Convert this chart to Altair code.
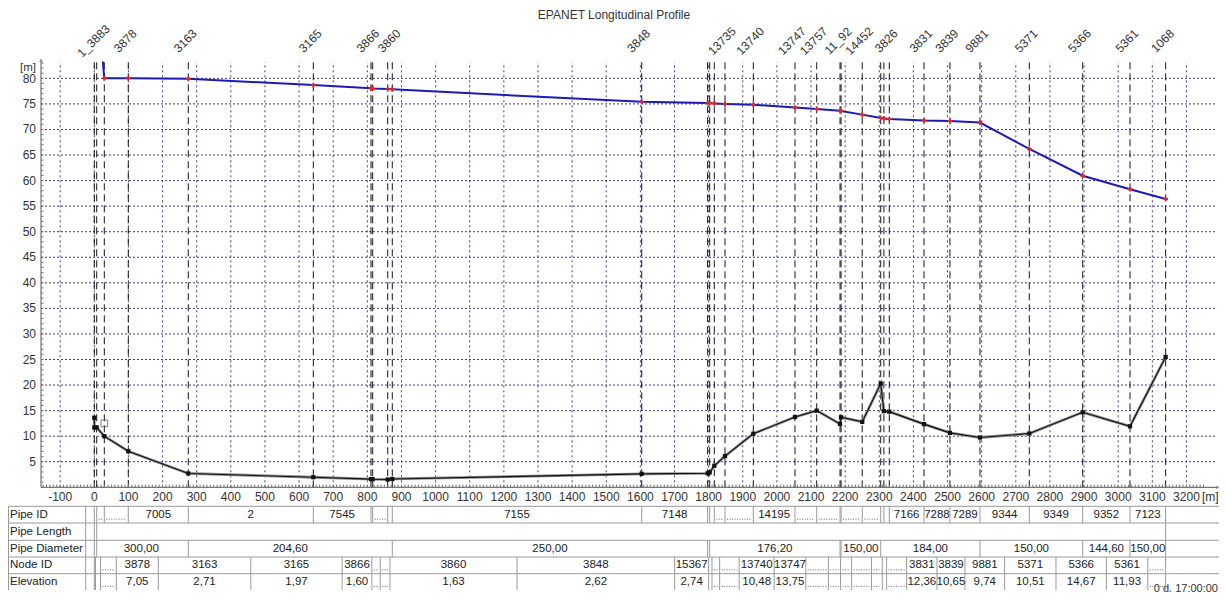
import altair as alt
import pandas as pd

# ---------------- data ----------------
node_dist = [0, 7, 29.3, 99.6, 275.4, 641.7, 810.7, 815.7, 859.7, 873.1,
             1603.9, 1797, 1803, 1816.6, 1847.9, 1930.9, 2053, 2116.6, 2185, 2188,
             2250, 2304.2, 2313.5, 2329.3, 2431, 2507, 2595, 2739.5, 2896, 3034.6, 3139]
node_name = ["", "1_3883", "", "3878", "3163", "3165", "3866", "", "", "3860",
             "3848", "", "", "", "13735", "13740", "13747", "13757", "", "11_92",
             "14452", "", "", "3826", "3831", "3839", "9881", "5371", "5366", "5361", "1068"]
head = [None, None, 80.0, 80.0, 79.9, 78.7, 78.05, 78.0, 77.9, 77.85,
        75.4, 75.2, 75.15, 75.1, 75.0, 74.85, 74.3, 74.0, 73.65, 73.6,
        72.9, 72.25, 72.15, 72.05, 71.75, 71.65, 71.35, 66.2, 60.95, 58.3, 56.4]
head_entry_dist, head_entry = 25, 83.3

ground_dist = [0, 0, 7, 29.3, 99.6, 275.4, 641.7, 810.7, 815.7, 859.7, 873.1,
               1603.9, 1797, 1803, 1816.6, 1847.9, 1930.9, 2053, 2116.6, 2185, 2188,
               2250, 2304.2, 2313.5, 2329.3, 2431, 2507, 2595, 2739.5, 2896, 3034.6, 3139]
ground_elev = [13.6, 11.7, 11.7, 10.0, 7.05, 2.71, 1.97, 1.60, 1.58, 1.52, 1.63,
               2.62, 2.74, 2.9, 4.2, 6.1, 10.48, 13.75, 15.0, 12.4, 13.7,
               12.8, 20.3, 14.9, 14.8, 12.36, 10.65, 9.74, 10.51, 14.67, 11.93, 25.5]
valve_dist, valve_elev = 29.3, 12.5

pipe_id = ["", "", "", "7005", "2", "7545", "", "", "", "7155", "7148", "", "", "", "",
           "14195", "", "", "", "", "", "", "", "7166", "7288", "7289", "9344", "9349",
           "9352", "7123"]
node_id_cell = ["", "", "", "3878", "3163", "3165", "3866", "", "", "3860", "3848", "15367",
                "", "", "", "13740", "13747", "", "", "", "", "", "", "", "3831", "3839",
                "9881", "5371", "5366", "5361", ""]
elev_cell = ["", "", "", "7,05", "2,71", "1,97", "1,60", "", "", "1,63", "2,62", "2,74",
             "", "", "", "10,48", "13,75", "", "", "", "", "", "", "", "12,36", "10,65",
             "9,74", "10,51", "14,67", "11,93", ""]
diam_from = [0, 275.4, 873.1, 1803, 2188, 2304.2, 2595, 2896, 3034.6]
diam_to = [275.4, 873.1, 1797, 2185, 2304.2, 2595, 2896, 3034.6, 3139]
diam_label = ["300,00", "204,60", "250,00", "176,20", "150,00", "184,00", "150,00",
              "144,60", "150,00"]
row_names = ["Pipe ID", "Pipe Length", "Pipe Diameter", "Node ID", "Elevation"]
x_ticks = list(range(-100, 3201, 100))
y_ticks = list(range(5, 81, 5))

# ---------------- layout helpers (page pixels -> data units) ----------------
PX0, KX = 94.3, 0.3413
PY0, KY = 487.3, 5.112


def xm(p):
    return (p - PX0) / KX


def yv(p):
    return (PY0 - p) / KY


ROW_TOP = [506.3, 523.0, 540.3, 557.0, 573.7]
ROW_BOT = 590.0
row_mid = [(ROW_TOP[i] + (ROW_TOP[i + 1] if i < 4 else ROW_BOT)) / 2 for i in range(5)]

XS = alt.Scale(domain=[xm(8), xm(1219)], nice=False, zero=False)
YS = alt.Scale(domain=[yv(594), yv(8)], nice=False, zero=False)
GRID = "#3e3e80"
TBL = "#9a9a9a"
FONT = "Liberation Sans"


def enc_xy(df):
    e = dict(x=alt.X("x:Q", scale=XS, axis=None), y=alt.Y("y:Q", scale=YS, axis=None))
    if "x2" in df.columns:
        e["x2"] = alt.X2("x2:Q")
    if "y2" in df.columns:
        e["y2"] = alt.Y2("y2:Q")
    return e


def rules(rows, **mk):
    df = pd.DataFrame(rows)
    return alt.Chart(df).mark_rule(**mk).encode(**enc_xy(df))


def texts(rows, **mk):
    df = pd.DataFrame(rows)
    style = dict(font=FONT, fontSize=11.5, color="#222", baseline="middle")
    style.update(mk)
    return alt.Chart(df).mark_text(**style).encode(text="t:N", **enc_xy(df))


layers = []

# grid
layers.append(rules([{"x": xm(41), "x2": xm(1215), "y": v} for v in y_ticks],
                    color=GRID, strokeDash=[2, 2], strokeWidth=1))
layers.append(rules([{"x": v, "y": 0, "y2": yv(62)} for v in x_ticks],
                    color=GRID, strokeDash=[2, 3], strokeWidth=1))
# node dashed lines
layers.append(rules([{"x": d, "y": 0, "y2": yv(62)} for d in node_dist],
                    color="#151515", strokeDash=[7, 4], strokeWidth=1))

# axes
layers.append(rules([{"x": xm(41), "y": 0, "y2": yv(61)},
                     {"x": xm(41), "x2": xm(1217), "y": 0}], color="#555", strokeWidth=1))
layers.append(rules([{"x": v, "y": 0, "y2": yv(484.6)} for v in range(-150, 3251, 10)],
                    color="#777", strokeWidth=1))
layers.append(rules([{"x": xm(41), "x2": xm(43.5), "y": v} for v in range(1, 84)],
                    color="#777", strokeWidth=1))
arrow = pd.DataFrame({"x": [xm(41), xm(1218)], "y": [yv(60), 0], "s": ["triangle-up", "triangle-right"]})
layers.append(alt.Chart(arrow).mark_point(filled=True, size=14, color="#666").encode(
    x=alt.X("x:Q", scale=XS, axis=None), y=alt.Y("y:Q", scale=YS, axis=None),
    shape=alt.Shape("s:N", scale=None)))

# ground profile (pipe band + invert line)
gdf = pd.DataFrame({"x": ground_dist, "y": ground_elev, "i": range(len(ground_dist))})
genc = dict(x=alt.X("x:Q", scale=XS, axis=None), y=alt.Y("y:Q", scale=YS, axis=None),
            order=alt.Order("i:Q"))
layers.append(alt.Chart(gdf).mark_line(color="#909090", strokeWidth=2.8).encode(**genc))
layers.append(alt.Chart(gdf).mark_line(color="#111", strokeWidth=1.1).encode(**genc))
layers.append(alt.Chart(gdf).mark_point(shape="square", filled=True, size=18, color="#111",
                                        opacity=1).encode(x=genc["x"], y=genc["y"]))
vdf = pd.DataFrame({"x": [valve_dist], "y": [valve_elev]})
layers.append(alt.Chart(vdf).mark_point(shape="square", filled=False, size=45, color="#444",
                                        strokeWidth=1).encode(x=genc["x"], y=genc["y"]))

# hydraulic grade line
hx = [head_entry_dist] + [d for d, h in zip(node_dist, head) if h is not None]
hy = [head_entry] + [h for h in head if h is not None]
hdf = pd.DataFrame({"x": hx, "y": hy, "i": range(len(hx))})
layers.append(alt.Chart(hdf).mark_line(color="#1c1cb4", strokeWidth=2).encode(**{
    "x": alt.X("x:Q", scale=XS, axis=None), "y": alt.Y("y:Q", scale=YS, axis=None),
    "order": alt.Order("i:Q")}))
layers.append(alt.Chart(hdf.iloc[1:]).mark_point(shape="cross", filled=True, size=22,
                                                 color="#e02828", opacity=1).encode(
    x=alt.X("x:Q", scale=XS, axis=None), y=alt.Y("y:Q", scale=YS, axis=None)))

# labels
layers.append(texts([{"x": d - 3 / KX, "y": yv(41), "t": n} for d, n in zip(node_dist, node_name) if n],
                    angle=315, align="center", fontSize=12, color="#333"))
layers.append(texts([{"x": xm(36), "y": v, "t": str(v)} for v in y_ticks if v < 80],
                    align="right", fontSize=12, color="#333"))
layers.append(texts([{"x": xm(36), "y": 80, "t": "80"}], align="right", fontSize=12,
                    color="#333", dy=1))
layers.append(texts([{"x": xm(36), "y": yv(67.5), "t": "[m]"}], align="right", fontSize=11.5,
                    color="#333"))
layers.append(texts([{"x": v, "y": yv(497.3), "t": str(v)} for v in x_ticks],
                    align="center", fontSize=12, color="#333"))
layers.append(texts([{"x": xm(1202), "y": yv(497.3), "t": "[m]"}], align="left", fontSize=12, color="#333"))
layers.append(texts([{"x": xm(614), "y": yv(15), "t": "EPANET Longitudinal Profile"}],
                    align="center", fontSize=12, color="#333"))
layers.append(texts([{"x": xm(1218), "y": yv(589), "t": "0 d. 17:00:00"}],
                    align="right", fontSize=11, color="#333"))

# ---------------- table ----------------
n = len(node_dist)
hl = [{"x": xm(8), "x2": xm(1219), "y": yv(t)} for t in ROW_TOP]
vl = [{"x": xm(8.5), "y": yv(ROW_TOP[0]), "y2": yv(ROW_BOT)},
      {"x": xm(85.7), "y": yv(ROW_TOP[0]), "y2": yv(ROW_BOT)}]
for d in node_dist:
    vl.append({"x": d, "y": yv(ROW_TOP[0]), "y2": yv(ROW_TOP[1])})
for d in [node_dist[0], node_dist[1], node_dist[-1]]:
    vl.append({"x": d, "y": yv(ROW_TOP[1]), "y2": yv(ROW_TOP[2])})
for d in sorted(set(diam_from + diam_to + [node_dist[1]])):
    vl.append({"x": d, "y": yv(ROW_TOP[2]), "y2": yv(ROW_TOP[3])})
cell_l = [node_dist[0]] + [(node_dist[i - 1] + node_dist[i]) / 2 for i in range(1, n)]
cell_r = cell_l[1:] + [node_dist[-1]]
for b in cell_l + [cell_r[-1]]:
    vl.append({"x": b, "y": yv(ROW_TOP[3]), "y2": yv(ROW_BOT)})

layers.append(rules(hl, color=TBL, strokeWidth=1))
layers.append(rules(vl, color=TBL, strokeWidth=1))

tt = [{"x": xm(10), "y": yv(row_mid[i]), "t": row_names[i]} for i in range(5)]
layers.append(texts(tt, align="left", fontSize=11.5, color="#222"))

cells = []
dots = []
PAD = 2 / KX


def add_cell(x1, x2, label, row):
    w = (x2 - x1) * KX
    if label:
        cells.append({"x": (x1 + x2) / 2, "y": yv(row_mid[row]), "t": label})
    elif w >= 6:
        dots.append({"x": x1 + PAD, "x2": x2 - PAD, "y": yv(row_mid[row] + 4.5)})


for i in range(n - 1):
    add_cell(node_dist[i], node_dist[i + 1], pipe_id[i], 0)
for a, b, lab in zip(diam_from, diam_to, diam_label):
    add_cell(a, b, lab, 2)
for i in range(n):
    add_cell(cell_l[i], cell_r[i], node_id_cell[i], 3)
    add_cell(cell_l[i], cell_r[i], elev_cell[i], 4)

layers.append(texts(cells, align="center"))
layers.append(rules(dots, color="#666", strokeDash=[1, 1.5], strokeWidth=1))

chart = alt.layer(*layers).properties(
    width=1211, height=586, padding=0,
    autosize=alt.AutoSizeParams(type="none"),
).configure_view(stroke=None)

chart.save("out.html", embed_options={"renderer": "svg", "actions": False})
